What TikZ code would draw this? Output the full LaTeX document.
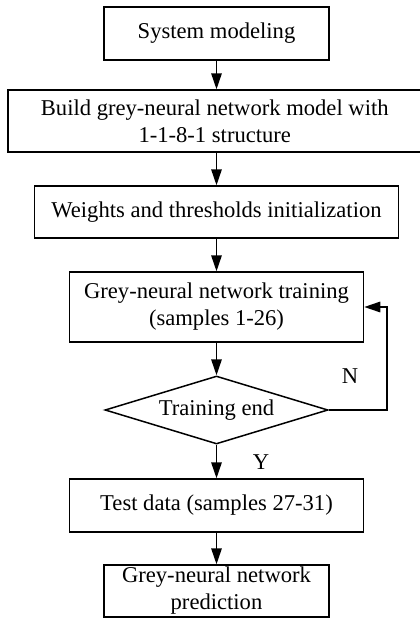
\documentclass[tikz,border=0pt]{standalone}
\usepackage{fontspec}
\setmainfont{Liberation Serif}
\usetikzlibrary{arrows.meta,shapes.geometric}

\begin{document}
\begin{tikzpicture}[x=1pt,y=-1pt,
  every node/.style={font=\fontsize{22.6}{27}\selectfont, inner sep=0pt},
  stepbox/.style={draw, line width=1.5pt, rectangle, align=center},
  decision/.style={draw, line width=1.5pt, diamond, aspect=3.28,
    minimum width=223pt, minimum height=68pt},
  arr/.style={line width=1.5pt, -{Triangle[length=16pt,width=10.5pt]}},
  lbl/.style={font=\fontsize{22.6}{27}\selectfont}
]
\useasboundingbox (0,0) rectangle (420,618);

\node[stepbox, minimum width=225pt, minimum height=53pt] (b1) at (216.5,33.5) {System modeling};
\node[stepbox, minimum width=413.5pt, minimum height=62pt] (b2) at (214.75,121)
  {Build grey-neural network model with\\1-1-8-1 structure};
\node[stepbox, minimum width=364pt, minimum height=52pt] (b3) at (216.5,212)
  {Weights and thresholds initialization};
\node[stepbox, minimum width=294pt, minimum height=70pt] (b4) at (216.5,307)
  {Grey-neural network training\\(samples 1-26)};
\node[decision] (d) at (216.5,410) {Training end};
\node[stepbox, minimum width=294pt, minimum height=53pt] (b5) at (216.5,505.5)
  {Test data (samples 27-31)};
\node[stepbox, minimum width=225pt, minimum height=52pt] (b6) at (216.5,591)
  {Grey-neural network\\prediction};

\draw[arr] (b1.south) -- (b1.south |- b2.north);
\draw[arr] (b1.south |- b2.south) -- (b3.north);
\draw[arr] (b3.south) -- (b4.north);
\draw[arr] (b4.south) -- (d.north);
\draw[arr] (d.south) -- (b5.north);
\draw[arr] (b5.south) -- (b6.north);

\coordinate (loop) at (387,410);
\draw[arr] (d.east) -- (loop) |- (b4.east);

\node[lbl] (n) at (350,376) {N};
\node[lbl] (y) at (261,462) {Y};
\end{tikzpicture}
\end{document}
